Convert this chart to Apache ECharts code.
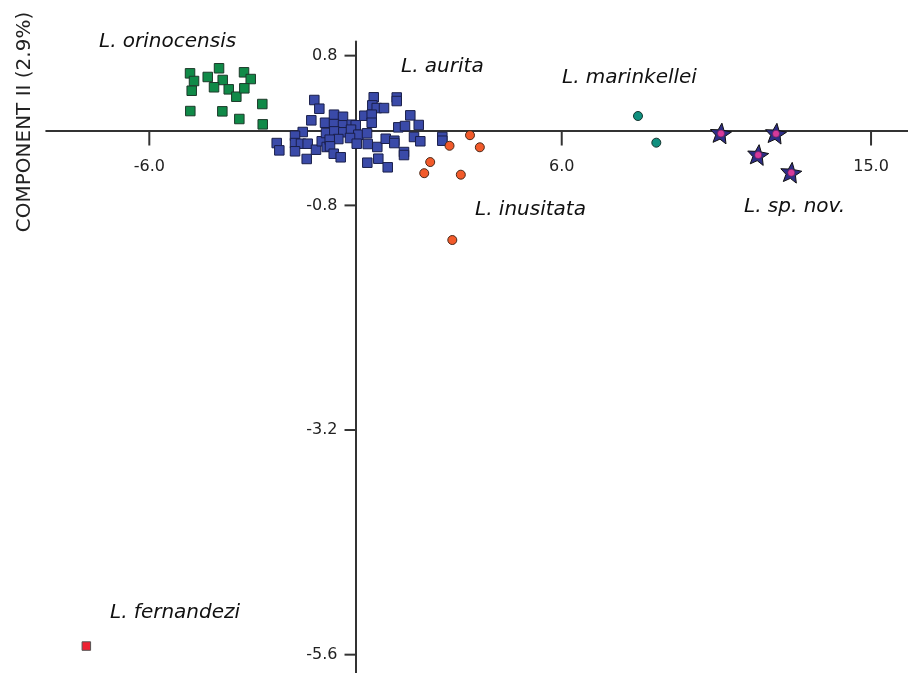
<!DOCTYPE html>
<html>
<head>
<meta charset="utf-8">
<script src="https://cdn.jsdelivr.net/npm/echarts@6/dist/echarts.min.js"></script>
<style>
html,body{margin:0;padding:0;background:#fff;}
#chart{width:908px;height:673px;}
</style>
</head>
<body>
<div id="chart"></div>
<script>
// ---- data (Component I, Component II) ----
const orinocensis = [
  [-4.815,0.611],[-4.699,0.529],[-4.766,0.425],[-4.807,0.208],[-4.300,0.572],
  [-3.971,0.665],[-3.864,0.540],[-4.117,0.462],[-3.689,0.440],[-3.875,0.205],
  [-3.468,0.361],[-3.244,0.622],[-3.049,0.550],[-3.235,0.451],[-3.381,0.123],
  [-2.712,0.283],[-2.700,0.066]
];
const aurita = [
  [-1.199,0.326],[-1.053,0.233],[-1.286,0.109],[-0.887,0.083],[-1.536,-0.016],
  [-1.760,-0.056],[-2.293,-0.134],[-2.217,-0.212],[-1.760,-0.134],[-1.586,-0.141],
  [-1.391,-0.141],[-1.760,-0.222],[-1.149,-0.205],[-1.420,-0.304],[-0.983,-0.115],
  [-0.858,-0.027],[-0.838,-0.176],
  [0.530,0.355],[0.489,0.269],[0.617,0.240],[0.829,0.240],[0.256,0.158],
  [0.471,0.169],[0.471,0.083],[-0.626,0.169],[-0.364,0.147],[-0.626,0.069],
  [-0.364,0.056],[-0.111,0.062],[0.006,0.056],[-0.617,-0.009],[-0.355,-0.019],
  [-0.131,0.009],[0.081,-0.045],[0.335,-0.030],[-0.160,-0.080],[0.035,-0.141],
  [-0.500,-0.091],[-0.751,-0.098],[-0.742,-0.169],[-0.634,-0.248],[-0.431,-0.286],
  [0.355,-0.144],[0.634,-0.176],[0.879,-0.088],[0.343,-0.344],[0.663,-0.301],
  [0.937,-0.393],
  [1.199,0.353],[1.199,0.315],[1.594,0.162],[1.245,0.034],[1.440,0.048],
  [1.839,0.059],[1.129,-0.109],[1.129,-0.134],[1.702,-0.069],[1.885,-0.115],
  [1.411,-0.230],[1.411,-0.262],[2.525,-0.069],[2.525,-0.109]
];
const inusitata = [
  [3.331,-0.050],[2.735,-0.163],[3.617,-0.179],[2.173,-0.337],[1.999,-0.456],
  [3.064,-0.472],[2.816,-1.170]
];
const marinkellei = [[8.219,0.155],[8.752,-0.130]];
const spNov = [[10.634,-0.032],[12.235,-0.034],[11.717,-0.262],[12.680,-0.451]];
const fernandezi = [[-7.832,-5.508]];

const xTicks = [-6, 6, 15];
const yTicks = [0.8, -0.8, -3.2, -5.6];

const speciesLabels = ['L. orinocensis','L. aurita','L. marinkellei','L. inusitata','L. sp. nov.','L. fernandezi'];
const yAxisTitle = 'COMPONENT II (2.9%)';

// star symbol path
function starPath(){
  let d = '';
  for (let i = 0; i < 10; i++) {
    const r = (i % 2) ? 0.45 : 1;
    const a = -Math.PI / 2 + i * Math.PI / 5 + 0.12;
    const x = (r * Math.cos(a)).toFixed(4), y = (r * Math.sin(a)).toFixed(4);
    d += (i === 0 ? 'M' : 'L') + x + ' ' + y + ' ';
  }
  return 'path://' + d + 'Z';
}

const FONT = 'DejaVu Sans';
const AXIS_COLOR = '#333';
const chart = echarts.init(document.getElementById('chart'), null, {renderer:'canvas'});

// layout (pixels)
const G = { left: 46.2, top: 41.6, width: 876.4, height: 650.5 };
const X_MIN = -9, X_MAX = 16.5, Y_MIN = -6, Y_MAX = 0.95;
// offsets that move the axes to cross at the origin
const zeroY = G.top + G.height * (Y_MAX - 0) / (Y_MAX - Y_MIN);
const zeroX = G.left + G.width * (0 - X_MIN) / (X_MAX - X_MIN);
const xOffset = -(G.top + G.height - zeroY);
const yOffset = -(zeroX - G.left);
const X_TICK_LEN = 15, Y_TICK_LEN = 11;

const labelPos = [
  [99, 42], [401, 67], [562, 78], [475, 210], [744, 207], [110, 613]
];

function tickSeries(values, isX) {
  return {
    type: 'custom', silent: true, clip: false, z: 1,
    data: values.map(v => isX ? [v, 0] : [0, v]),
    encode: { x: 0, y: 1 },
    renderItem: function (params, api) {
      const p = api.coord([api.value(0), api.value(1)]);
      const shape = isX
        ? { x1: p[0], y1: p[1], x2: p[0], y2: p[1] + X_TICK_LEN }
        : { x1: p[0] - Y_TICK_LEN, y1: p[1], x2: p[0], y2: p[1] };
      return { type: 'line', shape: shape, style: { stroke: AXIS_COLOR, lineWidth: 2 } };
    }
  };
}

const option = {
  animation: false,
  backgroundColor: '#ffffff',
  grid: Object.assign({ containLabel: false, outerBoundsMode: 'none' }, G),
  xAxis: {
    type: 'value', min: X_MIN, max: X_MAX, position: 'bottom', offset: xOffset,
    axisLine: { onZero: false, lineStyle: { color: AXIS_COLOR, width: 2 } },
    axisTick: { show: false },
    axisLabel: { customValues: xTicks, formatter: v => v.toFixed(1), margin: 28,
                 fontSize: 16, fontFamily: FONT, color: '#222' },
    splitLine: { show: false }
  },
  yAxis: {
    type: 'value', min: Y_MIN, max: Y_MAX, position: 'left', offset: yOffset,
    axisLine: { onZero: false, lineStyle: { color: AXIS_COLOR, width: 2 } },
    axisTick: { show: false },
    axisLabel: { customValues: yTicks, formatter: v => v.toFixed(1), margin: 18,
                 fontSize: 16, fontFamily: FONT, color: '#222' },
    splitLine: { show: false }
  },
  graphic: [
    { type: 'text', x: 25, y: 122, rotation: Math.PI / 2,
      style: { text: yAxisTitle, font: '20px "DejaVu Sans"', fill: '#222',
               textAlign: 'center', textVerticalAlign: 'middle' } }
  ].concat(speciesLabels.map((t, i) => ({
      type: 'text', x: labelPos[i][0], y: labelPos[i][1],
      style: { text: t, font: 'italic 20px "DejaVu Sans"', fill: '#111',
               textAlign: 'left', textVerticalAlign: 'middle' }
  }))),
  series: [
    tickSeries(xTicks, true),
    tickSeries(yTicks, false),
    { type: 'scatter', data: orinocensis, symbol: 'rect', symbolSize: 9.5, z: 2,
      itemStyle: { color: '#108a48', borderColor: '#1d3a2a', borderWidth: 1, opacity: 1 } },
    { type: 'scatter', data: aurita, symbol: 'rect', symbolSize: 9.5, z: 2,
      itemStyle: { color: '#3a4aa8', borderColor: '#1a1f4a', borderWidth: 1, opacity: 1 } },
    { type: 'scatter', data: inusitata, symbol: 'circle', symbolSize: 9, z: 2,
      itemStyle: { color: '#f25a2a', borderColor: '#4a2a1a', borderWidth: 1, opacity: 1 } },
    { type: 'scatter', data: marinkellei, symbol: 'circle', symbolSize: 9, z: 2,
      itemStyle: { color: '#10907f', borderColor: '#15352f', borderWidth: 1, opacity: 1 } },
    { type: 'scatter', data: spNov, symbol: starPath(), symbolSize: 21, symbolKeepAspect: true, z: 2,
      itemStyle: { color: '#2e2e86', borderColor: '#111', borderWidth: 1, opacity: 1 } },
    { type: 'scatter', data: spNov, symbol: 'circle', symbolSize: 7, z: 3,
      itemStyle: { color: '#d63a9b', borderColor: '#5a1a4a', borderWidth: 0.5, opacity: 1 } },
    { type: 'scatter', data: fernandezi, symbol: 'rect', symbolSize: 8.5, z: 2,
      itemStyle: { color: '#ee2233', borderColor: '#555', borderWidth: 1, opacity: 1 } }
  ]
};
chart.setOption(option);
</script>
</body>
</html>
